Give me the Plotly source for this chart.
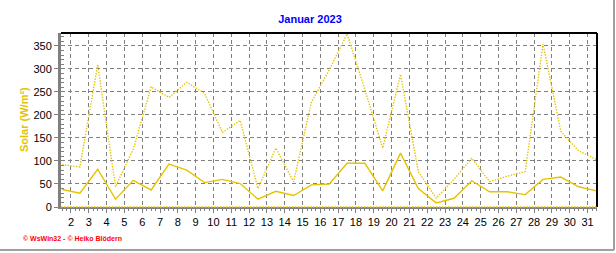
import plotly.graph_objects as go

# ---- data ----
days = list(range(1, 32))
solar_mean = [38, 30, 82, 17, 58, 37, 93, 80, 53, 60, 51, 17, 34, 25, 48, 50,
              95, 95, 35, 117, 40, 9, 19, 57, 33, 33, 27, 60, 65, 44, 35]
solar_max = [92, 87, 309, 44, 126, 261, 238, 271, 247, 162, 188, 40, 128, 55, 228, 298,
             376, 255, 128, 288, 77, 19, 60, 106, 55, 67, 77, 354, 164, 122, 103]
tick_days = list(range(2, 32))
tick_labels = [str(d) for d in tick_days]
y_ticks = [0, 50, 100, 150, 200, 250, 300, 350]

title_text = "Januar 2023"
y_title = "Solar (W/m²)"
credit = "© WsWin32 - © Heiko Blödern"

GOLD = "#E6C300"
GRID = "#808080"
FONT = "Liberation Sans, Arial, sans-serif"

# data points sit at the middle of each day
x_pos = [d + 0.5 for d in days]

fig = go.Figure()
fig.add_trace(go.Scatter(x=x_pos, y=solar_max, mode="lines",
                         line=dict(color=GOLD, width=1.4, dash="1.4px,1.4px"),
                         hoverinfo="skip", showlegend=False))
fig.add_trace(go.Scatter(x=x_pos, y=solar_mean, mode="lines",
                         line=dict(color=GOLD, width=1.4),
                         hoverinfo="skip", showlegend=False))

fig.update_layout(
    width=616, height=253,
    margin=dict(l=61, r=19, t=33, b=46, pad=0),
    paper_bgcolor="white", plot_bgcolor="white",
    font=dict(family=FONT, size=11, color="black"),
    showlegend=False,
    title=dict(text="<b>%s</b>" % title_text, x=310 / 616, xanchor="center",
               y=1 - 19 / 253, yanchor="middle",
               font=dict(family=FONT, size=11, color="#0000FF")),
)

fig.update_xaxes(
    range=[1.44, 31.53],
    tickmode="array", tickvals=tick_days, ticktext=tick_labels,
    ticks="outside", ticklen=4, tickcolor=GRID, tickwidth=1,
    minor=dict(ticks="outside", dtick=0.25, tick0=1, ticklen=2, tickcolor=GRID, showgrid=False),
    showgrid=True, gridcolor=GRID, gridwidth=1, griddash="4px,3px",
    showline=True, linecolor=GRID, linewidth=2,
    zeroline=False,
    tickfont=dict(family=FONT, size=11, color="black"),
    fixedrange=True,
)
fig.update_yaxes(
    range=[0, 378],
    tickmode="array", tickvals=y_ticks,
    ticks="outside", ticklen=4, tickcolor=GRID, tickwidth=1,
    minor=dict(ticks="inside", dtick=10, tick0=0, ticklen=3, tickcolor=GRID, showgrid=False),
    showgrid=True, gridcolor=GRID, gridwidth=1, griddash="4px,3px",
    showline=True, linecolor=GRID, linewidth=3,
    zeroline=False,
    tickfont=dict(family=FONT, size=11, color="black"),
    fixedrange=True,
)

shapes = [
    # top and right border of plot area
    dict(type="line", xref="paper", yref="paper", x0=0, x1=1, y0=1, y1=1,
         line=dict(color="black", width=2), layer="above"),
    dict(type="line", xref="paper", yref="paper", x0=1, x1=1, y0=0, y1=1,
         line=dict(color="black", width=2), layer="above"),
    # dotted base line
    dict(type="line", xref="paper", yref="paper", x0=0, x1=1, y0=0, y1=0,
         line=dict(color=GOLD, width=1.5, dash="1.5px,1.5px"), layer="above"),
    # outer frame (shadow) right and bottom
    dict(type="line", xref="paper", yref="paper", x0=(614 - 61) / 536, x1=(614 - 61) / 536,
         y0=(207 - 250) / 174, y1=(207 + 1) / 174 + 1.5,
         line=dict(color="#A0A0A0", width=2), layer="above"),
    dict(type="line", xref="paper", yref="paper", x0=-61 / 536, x1=(614 - 61) / 536,
         y0=(207 - 250) / 174, y1=(207 - 250) / 174,
         line=dict(color="#A0A0A0", width=2), layer="above"),
]
fig.update_layout(shapes=shapes)

fig.add_annotation(text="<b>%s</b>" % y_title, xref="paper", yref="paper",
                   x=(24 - 61) / 536, y=0.5, xanchor="center", yanchor="middle",
                   textangle=-90, showarrow=False,
                   font=dict(family=FONT, size=11, color=GOLD))
fig.add_annotation(text="<b>%s</b>" % credit, xref="paper", yref="paper",
                   x=(21 - 61) / 536, y=(207 - 238) / 174, xanchor="left", yanchor="middle",
                   showarrow=False,
                   font=dict(family=FONT, size=7, color="#FF0000"))

fig.write_html("out.html", config=dict(displayModeBar=False))
